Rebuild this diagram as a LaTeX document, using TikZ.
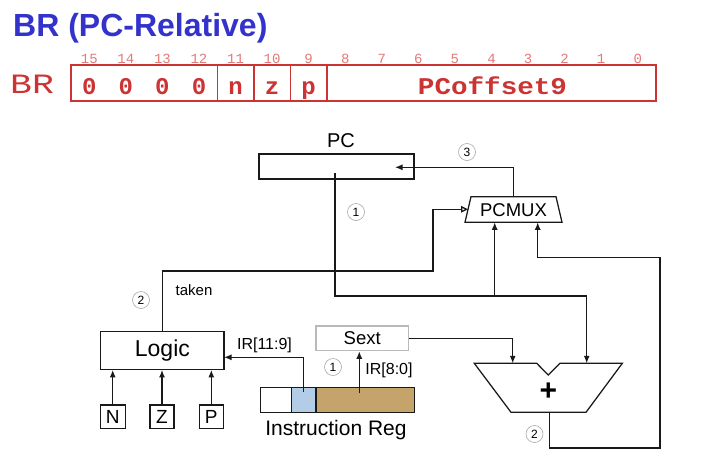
\documentclass[tikz,border=0pt]{standalone}
\usepackage{fontspec}
\setmainfont{Liberation Sans}
\newfontfamily\monofam{Liberation Mono}
\usetikzlibrary{arrows.meta}
\definecolor{ttlblue}{RGB}{51,51,204}
\definecolor{brred}{RGB}{204,51,51}
\definecolor{bitred}{RGB}{228,120,120}
\definecolor{irblue}{RGB}{180,205,230}
\definecolor{irbrown}{RGB}{196,164,106}
\tikzset{
  wire/.style={line width=1.25pt, draw=black!90},
  arr/.style={wire, -{Latex[length=7.5pt,width=6pt]}},
  openarr/.style={wire, -{Triangle[open,length=7pt,width=6.5pt]}},
  fieldbox/.style={draw=brred, line width=1.5pt, minimum height=36pt, inner sep=0pt},
  fieldtxt/.style={text=brred, font=\monofam\bfseries\fontsize{24}{24}\selectfont, anchor=base, inner sep=0pt},
  bitnum/.style={text=bitred, font=\monofam\fontsize{14}{14}\selectfont, inner sep=0pt},
  blk/.style={draw=black!90, line width=1.25pt, inner sep=0pt},
  lbl/.style={inner sep=0pt},
  circnum/.style={circle, draw=gray!70, line width=0.6pt, minimum size=17pt, inner sep=0pt, font=\fontsize{12}{12}\selectfont},
}
\begin{document}
\begin{tikzpicture}[x=1pt,y=-1pt]
\useasboundingbox (0,0) rectangle (727,466);
% title
\node[anchor=base west, inner sep=0pt, text=ttlblue, font=\bfseries\fontsize{32}{32}\selectfont] (title) at (13,36) {BR (PC-Relative)};
% instruction format
\node[anchor=base west, inner sep=0pt, text=brred, font=\monofam\fontsize{28}{28}\selectfont] (brlbl) at (10,93) {\scalebox{1.3}[1]{BR}};
\node[fieldbox, minimum width=146.25pt] (fop) at (144.125,83) {};
\node[fieldbox, minimum width=36.5625pt] (fn) at (235.53,83) {};
\node[fieldbox, minimum width=36.5625pt] (fz) at (272.09,83) {};
\node[fieldbox, minimum width=36.5625pt] (fp) at (308.66,83) {};
\node[fieldbox, minimum width=329.06pt] (foff) at (491.47,83) {};
\foreach \i/\c/\ch in {1/89.28/0,2/125.84/0,3/162.41/0,4/198.97/0,5/235.53/n,6/272.09/z,7/308.66/p}
  \node[fieldtxt] (ft\i) at (\c,94) {\ch};
\node[fieldtxt] (toff) at (492.5,94) {\scalebox{1.15}[1]{PCoffset9}};
\foreach \i in {0,...,15}
  \node[bitnum] (bn\i) at ({71+(15.5-\i)*36.5625},59) {\i};
% PC
\node[blk, minimum width=155pt, minimum height=25pt] (pcreg) at (336.5,166.5) {};
\node[lbl, font=\fontsize{20}{20}\selectfont] (pclbl) at (341,141) {PC};
\coordinate (pcin) at (395,167.3);
\coordinate (pcout) at (335,173);
% PCMUX
\draw[wire] (465,222.3) -- (471,196.7) -- (556,196.7) -- (562,222.3) -- cycle;
\node[lbl, font=\fontsize{18.5}{18.5}\selectfont] (pcmux) at (513.5,210) {PCMUX};
\coordinate (pcmuxtop) at (513.3,196.7);
\coordinate (pcmuxL) at (468,209.3);
\coordinate (pcmuxB1) at (494.7,222.3);
\coordinate (pcmuxB2) at (537.7,222.3);
% adder
\draw[wire] (474.3,363.3) -- (536.7,363.3) -- (548.3,375) -- (560,363.3) -- (622.3,363.3) -- (586,412.3) -- (511,412.3) -- cycle;
\node[lbl, font=\bfseries\fontsize{30}{30}\selectfont] (plus) at (548.3,392) {+};
\coordinate (addL) at (512.7,363.3);
\coordinate (addR) at (586.7,363.3);
\coordinate (addOut) at (549.3,412.3);
% Logic and NZP
\node[blk, minimum width=123.3pt, minimum height=37.6pt, font=\fontsize{23}{23}\selectfont] (logic) at (162.4,350.5) {Logic};
\coordinate (logicin) at (224,357.3);
\node[blk, minimum width=25pt, minimum height=23.3pt, font=\fontsize{19}{19}\selectfont] (nbox) at (112.7,416.7) {N};
\node[blk, minimum width=24pt, minimum height=23.3pt, font=\fontsize{19}{19}\selectfont] (zbox) at (162,416.7) {Z};
\node[blk, minimum width=24pt, minimum height=23.3pt, font=\fontsize{19}{19}\selectfont] (pbox) at (211.3,416.7) {P};
% Sext
\node[draw=gray!55, line width=1.2pt, inner sep=0pt, minimum width=92.3pt, minimum height=24.7pt, font=\fontsize{18.5}{18.5}\selectfont] (sext) at (362.2,338.3) {Sext};
% Instruction register
\node[blk, fill=white, minimum width=31pt, minimum height=25pt] (irw) at (276.2,399.8) {};
\node[blk, fill=irblue, minimum width=24.3pt, minimum height=25pt] (irb) at (303.85,399.8) {};
\node[blk, fill=irbrown, minimum width=98.3pt, minimum height=25pt] (irbr) at (365.15,399.8) {};
\node[lbl, font=\fontsize{21}{21}\selectfont] (irlbl) at (336,430) {Instruction Reg};
\coordinate (ir11) at (303.3,392);
\coordinate (ir8) at (359.3,393);
% connectors
\draw[arr] (pcmuxtop) |- (pcin);
\draw[wire] (pcout) |- (586.7,296);
\draw[arr] (586.7,296) -- (addR);
\coordinate (j1) at (494.7,296);
\draw[arr] (j1) -- (pcmuxB1);
\draw[arr] (addOut) |- (660,448) |- (537.7,257.7) -- (pcmuxB2);
\draw[openarr] (logic.north) |- (433,271) |- (pcmuxL);
\draw[arr] (sext.east) -| (addL);
\draw[arr] (ir8) -- (ir8 |- sext.south);
\draw[arr] (ir11) |- (logicin);
\draw[arr] (nbox.north) -- (nbox.north |- logic.south);
\draw[arr] (zbox.north) -- (zbox.north |- logic.south);
\draw[arr] (pbox.north) -- (pbox.north |- logic.south);
% labels
\node[lbl, font=\fontsize{15}{15}\selectfont] (taken) at (194,290) {taken};
\node[lbl, font=\fontsize{16}{16}\selectfont] (lir11) at (264.5,345) {IR[11:9]};
\node[lbl, font=\fontsize{16}{16}\selectfont] (lir8) at (389,370) {IR[8:0]};
% circled step numbers
\node[circnum] (c3) at (467,152) {3};
\node[circnum] (c1a) at (356,212) {1};
\node[circnum] (c2a) at (141,300) {2};
\node[circnum] (c1b) at (333,367) {1};
\node[circnum] (c2b) at (534.5,434) {2};
\end{tikzpicture}
\end{document}
